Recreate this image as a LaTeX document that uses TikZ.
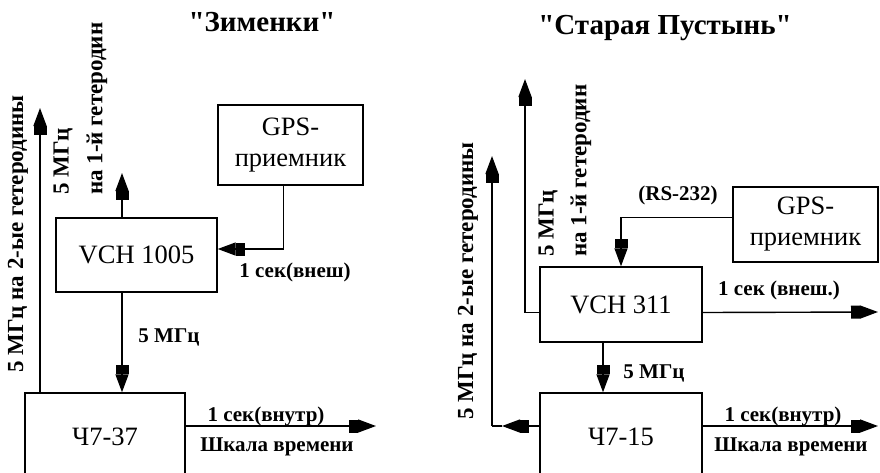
\documentclass[tikz,border=0pt]{standalone}
\usepackage{fontspec}
\setmainfont{Liberation Serif}
\usetikzlibrary{arrows.meta}

\begin{document}
\begin{tikzpicture}[x=1pt, y=-1pt,
  blok/.style={draw, line width=1.4pt, inner sep=0pt, align=center, font=\fontsize{26.5}{31}\selectfont},
  strelka/.style={line width=1.4pt, -{Rectangle[length=9pt, width=13pt]Triangle[length=18pt, width=13pt]}},
  metka/.style={inner sep=0pt, font=\bfseries\fontsize{21}{24}\selectfont},
  vert/.style={metka, rotate=90, anchor=west, font=\bfseries\fontsize{23}{26}\selectfont},
  zagolovok/.style={font=\bfseries\fontsize{29}{32}\selectfont}]
  \useasboundingbox (0,0) rectangle (880,472);
  \clip (0,0) rectangle (880,472);

  % "Зименки"
  \node[zagolovok] (zag1) at (262,22) {\textquotedbl Зименки\textquotedbl};
  \node[blok, minimum width=161pt, minimum height=74pt] (vch1) at (136.5,255) {VCH 1005};
  \node[blok, minimum width=145pt, minimum height=80pt] (gps1) at (290.5,145) {GPS-\\приемник};
  \node[blok, minimum width=160pt, minimum height=88pt] (ch1) at (105,437) {Ч7-37};

  \coordinate (verh2a) at (40,108);
  \coordinate (verh1a) at (122,173);
  \coordinate (vyh1) at (376,426);

  \draw[strelka] (ch1.north -| verh2a) -- (verh2a);
  \draw[strelka] (vch1.north -| verh1a) -- (verh1a);
  \draw[strelka] ([xshift=-7pt]gps1.south) |- ([yshift=6pt]vch1.east);
  \draw[strelka] (vch1.south -| verh1a) -- (ch1.north -| verh1a);
  \draw[strelka] ([yshift=11pt]ch1.east) -- (vyh1);

  \node[vert, anchor=center] (g2a) at (18,234) {5 МГц на 2-ые гетеродины};
  \node[vert] (mg1a) at (63,195) {5 МГц};
  \node[vert] (g1a) at (97,195) {на 1-й гетеродин};
  \node[metka] (sek1) at (295,272) {1 сек(внеш)};
  \node[metka] (mg1b) at (169,337) {5 МГц};
  \node[metka] (vn1) at (266,416) {1 сек(внутр)};
  \node[metka] (shk1) at (277,447) {Шкала времени};

  % "Старая Пустынь"
  \node[zagolovok] (zag2) at (665,28) {\textquotedbl Старая Пустынь\textquotedbl};
  \node[blok, minimum width=162pt, minimum height=75pt] (vch2) at (621,304.5) {VCH 311};
  \node[blok, minimum width=145pt, minimum height=75pt] (gps2) at (805.5,224.5) {GPS-\\приемник};
  \node[blok, minimum width=162pt, minimum height=88pt] (ch2) at (621,437) {Ч7-15};

  \coordinate (verh2b) at (492,156);
  \coordinate (ugol2b) at (492,426);
  \coordinate (strelka2b) at (502,426);
  \coordinate (verh1b) at (525,79);
  \coordinate (vyh2a) at (878,312);
  \coordinate (vyh2b) at (878,426);

  \draw[strelka] ([yshift=7pt]gps2.west) -| (vch2.north);
  \draw[strelka] ([yshift=-8pt]vch2.west) -| (verh1b);
  \draw[strelka] ([yshift=11pt]ch2.west) -- (strelka2b);
  \draw[line width=1.4pt] (strelka2b) -- (ugol2b);
  \draw[strelka] (ugol2b) -- (verh2b);
  \draw[strelka] ([xshift=-18pt]vch2.south) -- ([xshift=-18pt]vch2.south |- ch2.north);
  \draw[strelka] ([yshift=-8pt]vch2.east) -- (vyh2a);
  \draw[strelka] ([yshift=11pt]ch2.east) -- (vyh2b);

  \node[vert, anchor=center] (g2b) at (468,281) {5 МГц на 2-ые гетеродины};
  \node[vert] (mg2a) at (548,257) {5 МГц};
  \node[vert] (g1b) at (581,257) {на 1-й гетеродин};
  \node[metka] (rs) at (678,195) {(RS-232)};
  \node[metka] (sek2) at (779,290) {1 сек (внеш.)};
  \node[metka] (mg2b) at (654,373) {5 МГц};
  \node[metka] (vn2) at (783,416) {1 сек(внутр)};
  \node[metka] (shk2) at (791,447) {Шкала времени};
\end{tikzpicture}
\end{document}
